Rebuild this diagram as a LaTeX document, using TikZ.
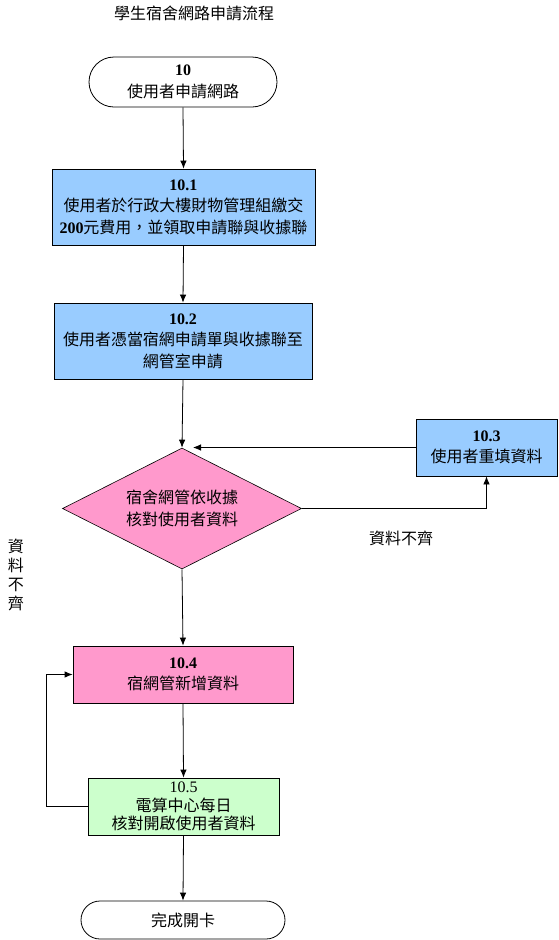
\documentclass[tikz,border=0pt]{standalone}
\usepackage{fontspec}
\setmainfont{Liberation Serif}
\newfontfamily\cjk{Noto Sans CJK TC}
\usetikzlibrary{arrows.meta,shapes.geometric}
\definecolor{boxblue}{HTML}{99CCFF}
\definecolor{boxpink}{HTML}{FF99CC}
\definecolor{boxgreen}{HTML}{CCFFCC}
\tikzset{
  every node/.style={font=\fontsize{16}{21.5}\selectfont, align=center, inner sep=0pt},
  procbox/.style={draw=black, line width=0.8pt, rectangle},
  termbox/.style={draw=black, line width=0.8pt, rectangle, fill=white},
  decbox/.style={draw=black, line width=0.6pt, diamond, fill=boxpink},
  flow/.style={draw=black, line width=0.8pt, -{Latex[length=8pt,width=6.5pt]}},
  plainlabel/.style={font=\fontsize{16}{19}\selectfont\cjk}
}
\begin{document}
\begin{tikzpicture}[x=1pt,y=-1pt]
\useasboundingbox (0,0) rectangle (558,940);
% title
\node[plainlabel] (title) at (194,13) {學生宿舍網路申請流程};
% start
\node[termbox, rounded corners=25pt, minimum width=188pt, minimum height=50pt] (start) at (183,82)
  {{\bfseries 10}\\{\cjk 使用者申請網路}};
% 10.1
\node[procbox, fill=boxblue, minimum width=263pt, minimum height=76pt] (n1) at (183.5,207)
  {{\bfseries 10.1}\\{\cjk 使用者於行政大樓財物管理組繳交}\\{\bfseries 200}{\cjk 元費用，並領取申請聯與收據聯}};
% 10.2
\node[procbox, fill=boxblue, minimum width=258pt, minimum height=76pt] (n2) at (183,341)
  {{\bfseries 10.2}\\{\cjk 使用者憑當宿網申請單與收據聯至}\\{\cjk 網管室申請}};
% decision
\node[decbox, aspect=1.975, minimum width=239pt, minimum height=121pt] (dec) at (182,508.5)
  {{\cjk 宿舍網管依收據}\\{\cjk 核對使用者資料}};
% 10.3
\node[procbox, fill=boxblue, minimum width=141pt, minimum height=57pt] (n3) at (486.5,447.5)
  {{\bfseries 10.3}\\{\cjk 使用者重填資料}};
% labels
\node[plainlabel] (lbl1) at (401,538) {資料不齊};
\node[plainlabel] (lbl2) at (16,575) {資\\料\\不\\齊};
% 10.4
\node[procbox, fill=boxpink, minimum width=220pt, minimum height=57pt] (n4) at (183,674.5)
  {{\bfseries 10.4}\\{\cjk 宿網管新增資料}};
% 10.5
\node[procbox, fill=boxgreen, minimum width=191pt, minimum height=57pt] (n5) at (183.5,806.5)
  {10.5\\[-3pt]{\cjk 電算中心每日}\\[-3pt]{\cjk 核對開啟使用者資料}};
% end
\node[termbox, rounded corners=19pt, minimum width=204pt, minimum height=38pt] (fin) at (183,920)
  {{\cjk 完成開卡}};
% coordinates
\coordinate (ret) at (193,447.5);
\coordinate (rcorner) at (486.5,508.5);
\coordinate (lcorner1) at (46,806.5);
\coordinate (lcorner2) at (46,674.5);
% connectors
\draw[flow] (start.south) -- (n1.north);
\draw[flow] (n1.south) -- (n2.north);
\draw[flow] (n2.south) -- (dec.north);
\draw[flow] (n3.west) -- (ret);
\draw[flow] (dec.east) -- (rcorner) -- (n3.south);
\draw[flow] (dec.south) -- (n4.north);
\draw[flow] (n4.south) -- (n5.north);
\draw[flow] (n5.west) -- (lcorner1) -- (lcorner2) -- (n4.west);
\draw[flow] (n5.south) -- (fin.north);
\end{tikzpicture}
\end{document}
